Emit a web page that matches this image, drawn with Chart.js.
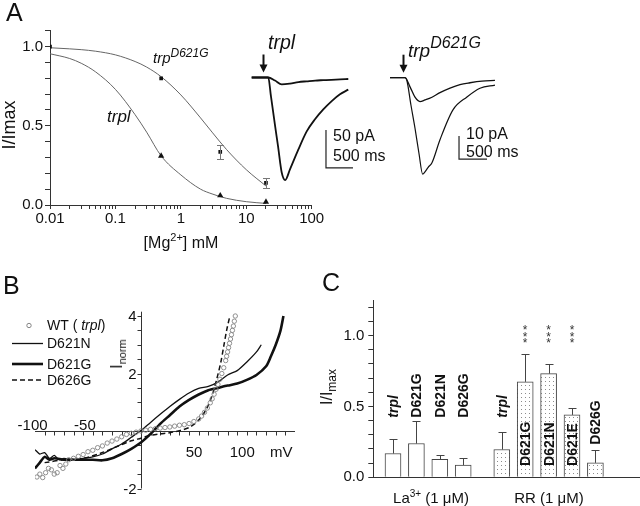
<!DOCTYPE html>
<html lang="en">
<head>
<meta charset="UTF-8">
<title>Mg2+ block and blocker sensitivity of trpl and trp mutants</title>
<script src="https://cdn.jsdelivr.net/npm/chart.js"></script>
<style>
  body { margin: 0; background: #fff; }
  #fig { position: relative; width: 640px; height: 506px; overflow: hidden;
         font-family: 'Liberation Sans', Arial, sans-serif; color: #111; }
  #fig canvas { position: absolute; }
  .txt { position: absolute; white-space: nowrap; line-height: 1; }
  .panel { font-size: 25px; }
  .rot { transform: translate(-50%, -50%) rotate(-90deg); }
  .mid { transform: translate(-50%, -50%); }
  .it { font-style: italic; }
  sup, sub { line-height: 0; }
</style>
</head>
<body>
<div id="fig">
  <canvas id="chartA" width="330" height="232" style="left:0;top:0"></canvas>
  <canvas id="traceTrpl" width="115" height="140" style="left:245px;top:50px"></canvas>
  <canvas id="traceD621G" width="115" height="135" style="left:385px;top:50px"></canvas>
  <canvas id="chartB" width="320" height="200" style="left:0;top:300px"></canvas>
  <canvas id="chartC" width="320" height="226" style="left:320px;top:280px"></canvas>

  <div class="txt panel" style="left:6px;top:0px">A</div>
  <div class="txt panel" style="left:3px;top:273px">B</div>
  <div class="txt panel" style="left:322px;top:270px">C</div>

  <div class="txt rot" style="left:9px;top:125px;font-size:18px">I/Imax</div>
  <div class="txt mid" style="left:181px;top:243px;font-size:16px">[Mg<sup style="font-size:11px;vertical-align:7px">2+</sup>] mM</div>
  <div class="txt it" style="left:153px;top:50px;font-size:15px">trp<sup style="font-size:12px;vertical-align:6px">D621G</sup></div>
  <div class="txt it" style="left:107px;top:108px;font-size:17px">trpl</div>

  <div class="txt it" style="left:268px;top:33px;font-size:19.5px">trpl</div>
  <div class="txt it" style="left:408px;top:41px;font-size:19px">trp<sup style="font-size:16px;vertical-align:9px">D621G</sup></div>
  <div class="txt" style="left:333px;top:128px;font-size:16px">50 pA</div>
  <div class="txt" style="left:333px;top:148px;font-size:16px">500 ms</div>
  <div class="txt" style="left:466px;top:126px;font-size:16px">10 pA</div>
  <div class="txt" style="left:466px;top:144px;font-size:16px">500 ms</div>

  <div class="txt rot" style="left:117px;top:354px;font-size:16px">I<sub style="font-size:11px;vertical-align:-4px">norm</sub></div>

  <div class="txt rot" style="left:327px;top:387px;font-size:16px">I/I<sub style="font-size:12px;vertical-align:-4px">max</sub></div>
  <div class="txt mid" style="left:431px;top:497px;font-size:15px">La<sup style="font-size:10px;vertical-align:6px">3+</sup> (1 &mu;M)</div>
  <div class="txt mid" style="left:549px;top:497px;font-size:15px">RR (1 &mu;M)</div>
</div>

<script>
// ---------- panel A: Mg2+ dose-response ----------
const mgDose = [0.01, 0.5, 4, 20];
const d621gRel = [1.0, 0.80, 0.335, 0.14];
const d621gSem = [0, 0, 0.045, 0.03];
const trplDose = [0.5, 4, 20];
const trplRel = [0.31, 0.06, 0.02];
const fitDose = [0.01, 0.02, 0.03, 0.05, 0.1, 0.2, 0.3, 0.5, 1, 2, 3, 5, 10, 20];
const d621gFit = [0.993, 0.986, 0.981, 0.971, 0.948, 0.906, 0.871, 0.81, 0.695, 0.55, 0.46, 0.35, 0.223, 0.12];
const trplFit = [0.955, 0.925, 0.895, 0.84, 0.73, 0.57, 0.46, 0.31, 0.19, 0.10, 0.07, 0.042, 0.021, 0.01];
const mgDecades = [0.01, 0.1, 1, 10, 100];
const mgDecadeLabels = ['0.01', '0.1', '1', '10', '100'];
const relLabelled = [0, 0.5, 1.0];

// ---------- panel A: light responses (ms, pA) ----------
const trplSmallMs = [124, 431, 556, 680, 833, 990, 1143, 1300, 1450, 1600, 1760, 1913];
const trplSmallPA = [0, 0, -4, -9, -8, -6, -5, -4, -3.5, -3, -2.5, -2];
const trplBigMs = [124, 431, 481, 556, 611, 680, 745, 833, 987, 1143, 1296, 1450, 1606, 1759, 1913];
const trplBigPA = [0, 0, -25, -63, -90, -125, -135, -121, -95, -71, -55, -42, -31, -22, -16];
const d621gSmallMs = [89, 357, 447, 536, 625, 714, 839, 982, 1161, 1339, 1518, 1732, 1964];
const d621gSmallPA = [0, 0, -4, -8.5, -10.4, -9.7, -8.5, -6.5, -4.5, -3, -2.2, -1.5, -1.2];
const d621gBigMs = [89, 357, 389, 464, 536, 607, 673, 714, 771, 839, 982, 1214, 1464, 1696, 1964];
const d621gBigPA = [0, 0, -1, -12, -22, -33, -42, -41, -39, -37, -27, -14, -8.4, -4.6, -3.2];
const stimMs = [333, 321];            // light onset (arrows)
const trplScale = {ms: 500, pA: 50};
const d621gScale = {ms: 500, pA: 10};

// ---------- panel B: I-V relations ----------
const wtMv = [-108,-105,-102,-99,-96,-93,-90,-87,-84,-81,-78,-75,-70,-65,-60,-55,-50,-45,-40,-35,-30,-25,-20,-15,-10,-5,0,5,10,15,20,25,30,35,40,45,50,55,60,63,66,69,72,74,76,78,80,82,84,86,88,89,90,91,92,93,94,95,96,97,98];
const wtI = [-1.6,-1.5,-1.62,-1.45,-1.3,-1.35,-1.5,-1.45,-1.2,-1.3,-1.15,-1.0,-0.95,-0.88,-0.82,-0.72,-0.67,-0.58,-0.52,-0.42,-0.35,-0.28,-0.2,-0.12,-0.08,-0.04,0.0,0.03,0.06,0.08,0.1,0.12,0.14,0.17,0.2,0.22,0.26,0.33,0.42,0.52,0.65,0.8,0.98,1.12,1.28,1.45,1.62,1.8,2.0,2.2,2.45,2.6,2.75,2.9,3.05,3.2,3.35,3.5,3.65,3.82,4.0];
const n621Mv = [-110,-105,-100,-95,-90,-85,-80,-70,-60,-50,-40,-30,-20,-10,0,10,20,30,40,50,60,70,80,90,100,110,120,125];
const n621I = [-0.65,-0.8,-0.75,-0.95,-0.85,-1.0,-0.95,-1.0,-0.95,-0.9,-0.8,-0.62,-0.45,-0.22,0.02,0.3,0.58,0.85,1.1,1.32,1.48,1.55,1.7,1.95,2.1,2.4,2.75,3.0];
const g621Mv = [-110,-105,-100,-95,-90,-80,-70,-60,-50,-40,-30,-20,-10,0,10,20,30,40,50,60,70,80,90,100,110,120,130,135,140,145,148];
const g621I = [-1.3,-1.1,-0.9,-1.0,-0.95,-1.0,-1.0,-1.0,-1.0,-1.02,-0.95,-0.8,-0.62,-0.4,-0.1,0.25,0.55,0.85,1.08,1.27,1.42,1.5,1.58,1.65,1.78,1.95,2.25,2.6,3.0,3.5,4.0];
const g626Mv = [-100,-80,-60,-40,-27,-10,0,10,20,30,41,50,55,60,65,70,75,79,83,86,89,92];
const g626I = [-1.1,-1.0,-0.95,-0.75,-0.57,-0.34,-0.25,-0.15,-0.1,-0.06,0.02,0.12,0.23,0.38,0.6,0.9,1.35,1.84,2.4,2.95,3.5,3.95];
const mvLabels = [-100, -50, 50, 100];
const inormLabels = [-2, 2, 4];

// ---------- panel C: block by La3+ and ruthenium red ----------
const laNames = ['trpl', 'D621G', 'D621N', 'D626G'];
const laMean = [0.168, 0.238, 0.126, 0.086];
const laErr = [0.10, 0.16, 0.03, 0.047];
const rrNames = ['trpl', 'D621G', 'D621N', 'D621E', 'D626G'];
const rrMean = [0.196, 0.673, 0.731, 0.44, 0.102];
const rrErr = [0.124, 0.194, 0.066, 0.047, 0.089];
const rrSignif = ['', '***', '***', '***', ''];
const laSlot = [1, 2, 3, 4];
const rrSlot = [5.65, 6.65, 7.65, 8.65, 9.65];

// ---------- layout-only settings ----------
const laLabelLevel = [0.42, 0.42, 0.42, 0.42];
const rrLabelLevel = [0.42, 0.08, 0.08, 0.08, 0.23];
const starLevels = [0.965, 1.012, 1.06];
const FONT = "'Liberation Sans', Arial, sans-serif";
const INK = '#111';
Chart.defaults.font.family = FONT;
Chart.defaults.color = INK;

const pts = (xs, ys) => xs.map((x, i) => ({x, y: ys[i]}));
const quiet = { legend: {display: false}, tooltip: {enabled: false} };

const errorBars = {
  id: 'errorBars',
  afterDatasetsDraw(chart) {
    const ctx = chart.ctx;
    chart.data.datasets.forEach((ds, di) => {
      if (!ds.errors) return;
      const meta = chart.getDatasetMeta(di);
      const ys = chart.scales[meta.yAxisID];
      ctx.save();
      ctx.strokeStyle = ds.errorColor || '#444';
      ctx.lineWidth = 1;
      meta.data.forEach((el, i) => {
        const e = ds.errors[i];
        if (!e) return;
        const v = ds.data[i].y;
        const x = Math.round(el.x) + 0.5;
        const top = Math.round(ys.getPixelForValue(v + e)) + 0.5;
        const bot = ds.upOnly ? el.y : Math.round(ys.getPixelForValue(v - e)) + 0.5;
        const h = ds.capHalf || 3;
        ctx.beginPath();
        ctx.moveTo(x, bot); ctx.lineTo(x, top);
        ctx.moveTo(x - h, top); ctx.lineTo(x + h, top);
        if (!ds.upOnly) { ctx.moveTo(x - h, bot); ctx.lineTo(x + h, bot); }
        ctx.stroke();
      });
      ctx.restore();
    });
  }
};

// panel A, dose-response
const logTicks = [];
mgDecades.forEach((d, k) => {
  if (k === mgDecades.length - 1) { logTicks.push(d); return; }
  for (let m = 1; m <= 9; m++) logTicks.push(+(d * m).toPrecision(2));
});

new Chart(document.getElementById('chartA'), {
  type: 'line',
  data: { datasets: [
    { data: pts(mgDose, d621gRel), showLine: false, pointStyle: 'rect', pointRadius: 2.6,
      backgroundColor: INK, borderColor: INK, borderWidth: 0, errors: d621gSem, errorColor: '#777', capHalf: 3.5 },
    { data: pts(trplDose, trplRel), showLine: false, pointStyle: 'triangle', pointRadius: 3.6,
      backgroundColor: INK, borderColor: INK, borderWidth: 0 },
    { data: pts(fitDose, d621gFit), borderColor: '#666', borderWidth: 1, pointRadius: 0,
      cubicInterpolationMode: 'monotone' },
    { data: pts(fitDose, trplFit), borderColor: '#666', borderWidth: 1, pointRadius: 0,
      cubicInterpolationMode: 'monotone' }
  ]},
  options: {
    responsive: false, animation: false,
    layout: { padding: { top: 30.8, right: 18.3, left: 0, bottom: 0 } },
    plugins: quiet,
    scales: {
      x: {
        type: 'logarithmic', min: 0.01, max: 100,
        afterBuildTicks: s => { s.ticks = logTicks.map(v => ({value: v})); },
        afterFit: s => { s.height = 27; },
        grid: { drawOnChartArea: false, tickLength: 4, color: '#333' },
        border: { color: '#333' },
        ticks: { autoSkip: false, maxRotation: 0, padding: 1, font: {size: 15},
          callback: v => {
            const k = mgDecades.findIndex(d => Math.abs(d - v) < d * 1e-6);
            return k >= 0 ? mgDecadeLabels[k] : '';
          } }
      },
      y: {
        min: 0, max: 1.1,
        afterFit: s => { s.width = 50; },
        grid: { drawOnChartArea: false, tickLength: 5, color: '#333' },
        border: { color: '#333' },
        ticks: { stepSize: 0.1, autoSkip: false, padding: 2, font: {size: 15},
          callback: v => relLabelled.some(t => Math.abs(t - v) < 1e-6) ? v.toFixed(1) : '' }
      }
    }
  },
  plugins: [errorBars]
});

// light responses with arrow and scale bar
const traceDecor = {
  id: 'traceDecor',
  afterDatasetsDraw(chart, args, opts) {
    const {ctx, scales: {x, y}} = chart;
    const ax = Math.round(x.getPixelForValue(opts.stim)) + 0.5;
    const y0 = y.getPixelForValue(0);
    ctx.save();
    ctx.strokeStyle = INK; ctx.fillStyle = INK; ctx.lineWidth = 2;
    ctx.beginPath(); ctx.moveTo(ax, y0 - 23); ctx.lineTo(ax, y0 - 12); ctx.stroke();
    ctx.beginPath(); ctx.moveTo(ax - 4, y0 - 13); ctx.lineTo(ax + 4, y0 - 13); ctx.lineTo(ax, y0 - 5);
    ctx.closePath(); ctx.fill();
    ctx.restore();
  }
};

function traceChart(id, sets, range, bar, stim) {
  const barSet = { data: [
      {x: bar.t, y: bar.i + bar.pA}, {x: bar.t, y: bar.i}, {x: bar.t + bar.ms, y: bar.i}],
    borderColor: '#222', borderWidth: 1.2, pointRadius: 0, tension: 0 };
  return new Chart(document.getElementById(id), {
    type: 'line',
    data: { datasets: sets.concat([barSet]) },
    options: {
      responsive: false, animation: false,
      layout: { padding: 0 },
      plugins: Object.assign({ traceDecor: { stim } }, quiet),
      scales: {
        x: { type: 'linear', display: false, min: 0, max: range.xMax },
        y: { type: 'linear', display: false, min: range.yMin, max: range.yMax }
      }
    },
    plugins: [traceDecor]
  });
}

const traceLine = (xs, ys, w) => ({ data: pts(xs, ys), borderColor: INK, borderWidth: w,
  pointRadius: 0, tension: 0.35, cubicInterpolationMode: 'monotone' });

traceChart('traceTrpl',
  [traceLine(trplSmallMs, trplSmallPA, 1.8), traceLine(trplBigMs, trplBigPA, 1.8)],
  { xMax: 2130, yMin: -148.1, yMax: 36.2 },
  Object.assign({ t: 1500, i: -119 }, trplScale), stimMs[0]);

traceChart('traceD621G',
  [traceLine(d621gSmallMs, d621gSmallPA, 1.3), traceLine(d621gBigMs, d621gBigPA, 1.2)],
  { xMax: 2054, yMin: -46.7, yMax: 12.05 },
  Object.assign({ t: 1322, i: -35.4 }, d621gScale), stimMs[1]);

// panel B, I-V curves with axes through the origin
const ivAxes = {
  id: 'ivAxes',
  beforeDatasetsDraw(chart) {
    const {ctx, scales: {x, y}} = chart;
    const x0 = Math.round(x.getPixelForValue(0)) + 0.5;
    const y0 = Math.round(y.getPixelForValue(0)) + 0.5;
    ctx.save();
    ctx.strokeStyle = '#333'; ctx.lineWidth = 1;
    ctx.beginPath();
    ctx.moveTo(x.left, y0); ctx.lineTo(x.right, y0);
    ctx.moveTo(x0, y.top); ctx.lineTo(x0, y.getPixelForValue(-2));
    for (let v = -100; v <= 150; v += 10) {
      const px = Math.round(x.getPixelForValue(v)) + 0.5;
      ctx.moveTo(px, y0); ctx.lineTo(px, y0 + 4);
    }
    for (let v = -2; v <= 4; v += 0.5) {
      const py = Math.round(y.getPixelForValue(v)) + 0.5;
      ctx.moveTo(x0, py); ctx.lineTo(x0 - 4, py);
    }
    ctx.stroke();
    ctx.fillStyle = INK;
    ctx.font = '15px ' + FONT;
    ctx.textBaseline = 'alphabetic';
    mvLabels.forEach(v => {
      const px = x.getPixelForValue(v);
      if (v < 0) { ctx.textAlign = 'right'; ctx.fillText(String(v), px + 3, y0 - 2); }
      else { ctx.textAlign = 'center'; ctx.fillText(String(v), px + 5, y0 + 25); }
    });
    ctx.textAlign = 'left';
    ctx.fillText('mV', x.right - 25, y0 + 25);
    ctx.textAlign = 'right'; ctx.textBaseline = 'middle';
    inormLabels.forEach(v => ctx.fillText(String(v), x0 - 5, y.getPixelForValue(v) + 1));
    ctx.restore();
  },
  afterDraw(chart) {
    const ctx = chart.ctx;
    const rows = [25.5, 43.5, 64, 80];
    ctx.save();
    chart.data.datasets.forEach((ds, i) => {
      const yy = rows[i];
      if (ds.showLine === false) {
        ctx.beginPath(); ctx.arc(29, yy, 2.2, 0, Math.PI * 2);
        ctx.strokeStyle = ds.borderColor; ctx.lineWidth = 1; ctx.stroke();
      } else {
        ctx.beginPath(); ctx.setLineDash(ds.borderDash || []);
        ctx.strokeStyle = ds.borderColor; ctx.lineWidth = ds.borderWidth;
        ctx.moveTo(12, yy); ctx.lineTo(43, yy); ctx.stroke(); ctx.setLineDash([]);
      }
      let tx = 47;
      ctx.fillStyle = INK; ctx.textAlign = 'left'; ctx.textBaseline = 'middle';
      ds.legendParts.forEach(([s, ital]) => {
        ctx.font = (ital ? 'italic ' : '') + '14px ' + FONT;
        ctx.fillText(s, tx, yy + 1);
        tx += ctx.measureText(s).width;
      });
    });
    ctx.restore();
  }
};

new Chart(document.getElementById('chartB'), {
  type: 'line',
  data: { datasets: [
    { data: pts(wtMv, wtI), showLine: false, pointStyle: 'circle', pointRadius: 2.2,
      borderColor: '#858585', backgroundColor: 'rgba(255,255,255,0)', borderWidth: 0.9,
      legendParts: [['WT ( ', false], ['trpl', true], [')', false]] },
    { data: pts(n621Mv, n621I), borderColor: INK, borderWidth: 1.3, pointRadius: 0, tension: 0.25,
      legendParts: [['D621N', false]] },
    { data: pts(g621Mv, g621I), borderColor: INK, borderWidth: 2.6, pointRadius: 0, tension: 0.25,
      legendParts: [['D621G', false]] },
    { data: pts(g626Mv, g626I), borderColor: INK, borderWidth: 1.5, borderDash: [5, 3], pointRadius: 0,
      tension: 0.3, legendParts: [['D626G', false]] }
  ]},
  options: {
    responsive: false, animation: false,
    layout: { padding: { left: 35, right: 25, top: 11.7, bottom: 11.5 } },
    plugins: quiet,
    scales: {
      x: { type: 'linear', display: false, min: -110, max: 160 },
      y: { type: 'linear', display: false, min: -2, max: 4.15 }
    }
  },
  plugins: [ivAxes]
});

// panel C, blocker sensitivity
function stipple(ctxSrc) {
  const c = document.createElement('canvas');
  c.width = 4; c.height = 4;
  const g = c.getContext('2d');
  g.fillStyle = '#ffffff'; g.fillRect(0, 0, 4, 4);
  g.fillStyle = '#8c8c8c'; g.fillRect(1, 1, 1, 1);
  return ctxSrc.createPattern(c, 'repeat');
}

const barNames = {
  id: 'barNames',
  afterDatasetsDraw(chart) {
    const ctx = chart.ctx, ys = chart.scales.y;
    chart.data.datasets.forEach((ds, di) => {
      const meta = chart.getDatasetMeta(di);
      meta.data.forEach((el, i) => {
        const name = ds.names[i];
        ctx.save();
        ctx.translate(Math.round(el.x) + 1, ys.getPixelForValue(ds.labelLevel[i]));
        ctx.rotate(-Math.PI / 2);
        ctx.font = (name === 'trpl' ? 'italic ' : '') + 'bold 14px ' + FONT;
        ctx.fillStyle = INK; ctx.textAlign = 'left'; ctx.textBaseline = 'middle';
        ctx.fillText(name, 0, 0);
        ctx.restore();
        if (ds.signif && ds.signif[i]) {
          ctx.save();
          ctx.font = '12px ' + FONT; ctx.fillStyle = '#333';
          ctx.textAlign = 'center'; ctx.textBaseline = 'alphabetic';
          starLevels.slice(0, ds.signif[i].length).forEach(lv =>
            ctx.fillText('*', el.x, ys.getPixelForValue(lv) + 7));
          ctx.restore();
        }
      });
    });
  }
};

const canvasC = document.getElementById('chartC');
new Chart(canvasC, {
  type: 'bar',
  data: { datasets: [
    { data: pts(laSlot, laMean), backgroundColor: '#ffffff', borderColor: '#444', borderWidth: 1,
      barThickness: 16, grouped: false, errors: laErr, upOnly: true, capHalf: 4, errorColor: '#444',
      names: laNames, labelLevel: laLabelLevel },
    { data: pts(rrSlot, rrMean), backgroundColor: stipple(canvasC.getContext('2d')), borderColor: '#444',
      borderWidth: 1, barThickness: 16, grouped: false, errors: rrErr, upOnly: true, capHalf: 4,
      errorColor: '#444', names: rrNames, labelLevel: rrLabelLevel, signif: rrSignif }
  ]},
  options: {
    responsive: false, animation: false,
    layout: { padding: { top: 20, right: 0, left: 0, bottom: 0 } },
    plugins: quiet,
    scales: {
      x: { type: 'linear', min: 0.158, max: 11.556, offset: false,
        afterFit: s => { s.height = 28.7; },
        grid: { display: true, drawOnChartArea: false, drawTicks: false },
        border: { color: '#333' },
        ticks: { display: false } },
      y: { min: 0, max: 1.25,
        afterFit: s => { s.width = 53.3; },
        grid: { drawOnChartArea: false, tickLength: 5, color: '#333' },
        border: { color: '#333' },
        ticks: { stepSize: 0.1, includeBounds: false, autoSkip: false, padding: 4, font: {size: 15},
          callback: v => relLabelled.some(t => Math.abs(t - v) < 1e-6) ? v.toFixed(1) : '' } }
    }
  },
  plugins: [errorBars, barNames]
});
</script>
</body>
</html>
